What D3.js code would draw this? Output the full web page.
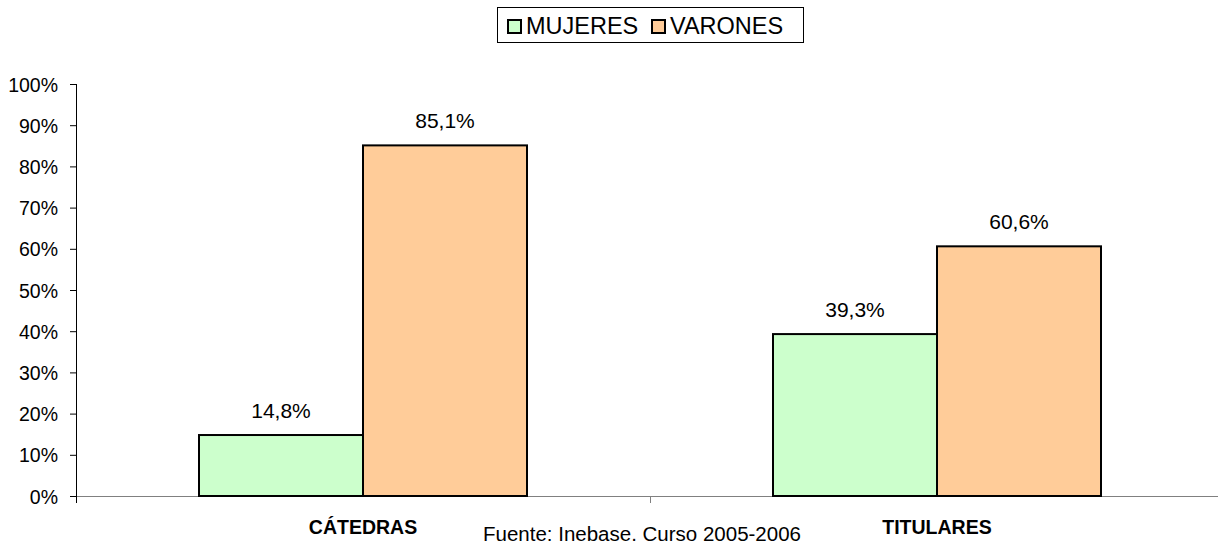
<!DOCTYPE html>
<html>
<head>
<meta charset="utf-8">
<script src="https://cdn.jsdelivr.net/npm/d3@7"></script>
<style>
  html, body { margin: 0; padding: 0; background: #fff; }
  svg { display: block; font-family: Arial, "Liberation Sans", sans-serif; }
</style>
</head>
<body>
<svg id="chart" width="1218" height="546"></svg>
<script>
// Share of women and men in university teaching bodies
const categories = ["CÁTEDRAS", "TITULARES"];
const seriesNames = ["MUJERES", "VARONES"];
const mujeres = [14.8, 39.3];
const varones = [85.1, 60.6];
const yTicks = [0, 10, 20, 30, 40, 50, 60, 70, 80, 90, 100];
const source = "Fuente: Inebase. Curso 2005-2006";

const colors = { MUJERES: "#CCFFCC", VARONES: "#FFCC99" };
const values = { MUJERES: mujeres, VARONES: varones };

const svg = d3.select("#chart");
const plot = { left: 76, top: 84, right: 1224, bottom: 496 };

const x = d3.scaleBand().domain(categories).range([plot.left, plot.right]);
const xInner = d3.scaleBand().domain(seriesNames)
  .range([0, x.bandwidth()]).paddingInner(0).paddingOuter(0.75);
const y = d3.scaleLinear().domain([0, 100]).range([plot.bottom, plot.top]);

const fmt = v => v.toFixed(1).replace(".", ",") + "%";

// Y axis
const yAxis = svg.append("g")
  .attr("transform", `translate(${plot.left},0)`)
  .call(d3.axisLeft(y).tickValues(yTicks).tickSize(6).tickPadding(0).tickFormat(d => d + "%"));
yAxis.select(".domain").attr("stroke", "#000").attr("stroke-width", 1).attr("d", `M0.5,${plot.top}V${plot.bottom}`);
yAxis.selectAll(".tick line").attr("stroke", "#000");
yAxis.selectAll(".tick text")
  .attr("x", -18)
  .attr("dy", "0.36em")
  .attr("font-size", 19.5).attr("fill", "#000")
  .attr("font-family", "Arial, 'Liberation Sans', sans-serif");

// X axis baseline with category separator ticks
const xAxisG = svg.append("g");
xAxisG.append("line")
  .attr("x1", plot.left).attr("x2", plot.right)
  .attr("y1", y(0) + 0.5).attr("y2", y(0) + 0.5)
  .attr("stroke", "#808080").attr("stroke-width", 1);
const boundaries = categories.map(c => x(c)).concat([x(categories[categories.length - 1]) + x.bandwidth()]);
xAxisG.selectAll("line.sep").data(boundaries).join("line")
  .attr("class", "sep")
  .attr("x1", d => d + 0.5).attr("x2", d => d + 0.5)
  .attr("y1", y(0)).attr("y2", y(0) + 7)
  .attr("stroke", (d, i) => i === 0 ? "#000" : "#808080");

// Bars
const groups = svg.selectAll("g.cat").data(categories).join("g")
  .attr("class", "cat")
  .attr("transform", d => `translate(${x(d)},0)`);

seriesNames.forEach(s => {
  groups.append("rect")
    .attr("x", xInner(s))
    .attr("width", xInner.bandwidth())
    .attr("y", (d, i) => y(values[s][i]))
    .attr("height", (d, i) => y(0) - y(values[s][i]))
    .attr("fill", colors[s])
    .attr("stroke", "#000")
    .attr("stroke-width", 2);
  groups.append("text")
    .attr("x", xInner(s) + xInner.bandwidth() / 2)
    .attr("y", (d, i) => y(values[s][i]) - 17)
    .attr("text-anchor", "middle")
    .attr("font-size", 21)
    .attr("fill", "#000")
    .text((d, i) => fmt(values[s][i]));
});

// Category labels
groups.append("text")
  .attr("x", x.bandwidth() / 2)
  .attr("y", 534)
  .attr("text-anchor", "middle")
  .attr("font-size", 19.5)
  .attr("font-weight", "bold")
  .attr("fill", "#000")
  .text(d => d);

// Source note
svg.append("text")
  .attr("x", 642).attr("y", 541)
  .attr("text-anchor", "middle")
  .attr("font-size", 20.5)
  .attr("fill", "#000")
  .text(source);

// Legend
const legend = svg.append("g");
legend.append("rect")
  .attr("x", 497.5).attr("y", 7.5).attr("width", 306).attr("height", 35)
  .attr("fill", "#fff").attr("stroke", "#000").attr("stroke-width", 1);
const legendItems = [{ name: "MUJERES", x: 508 }, { name: "VARONES", x: 652 }];
legendItems.forEach(item => {
  legend.append("rect")
    .attr("x", item.x).attr("y", 20).attr("width", 13).attr("height", 13)
    .attr("fill", colors[item.name]).attr("stroke", "#000").attr("stroke-width", 2);
  legend.append("text")
    .attr("x", item.x + 18).attr("y", 34)
    .attr("font-size", 23.5)
    .attr("fill", "#000")
    .text(item.name);
});
</script>
</body>
</html>
